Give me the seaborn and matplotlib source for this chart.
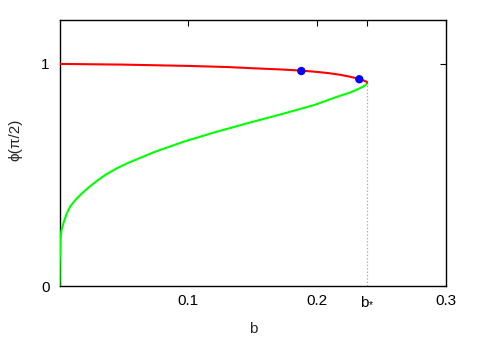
# phi(pi/2) vs b: upper (red) and lower (green) branches meeting at b*
import pandas as pd
import matplotlib
matplotlib.use("Agg")
import matplotlib.pyplot as plt
import seaborn as sns

b_star = 0.2387

# upper branch
upper_b = [0.0, 0.048, 0.1, 0.13, 0.152, 0.172, 0.1875, 0.2, 0.2095, 0.218, 0.225, 0.2295, 0.2329, 0.2362, 0.2381, 0.2387]
upper_phi = [1.0, 0.997, 0.991, 0.986, 0.980, 0.975, 0.970, 0.964, 0.958, 0.951, 0.943, 0.937, 0.931, 0.925, 0.921, 0.917]

# lower branch
lower_b = [0.0, 0.0002, 0.0007, 0.0015, 0.003, 0.0055, 0.0082, 0.012, 0.017, 0.0225, 0.029, 0.0355, 0.0445, 0.0536,
           0.0744, 0.0965, 0.1199, 0.1459, 0.1719, 0.1978, 0.216, 0.2255, 0.2316, 0.2358, 0.2381, 0.2387]
lower_phi = [0.0, 0.11, 0.207, 0.25, 0.282, 0.325, 0.357, 0.385, 0.415, 0.443, 0.473, 0.5, 0.53, 0.555,
             0.605, 0.65, 0.691, 0.733, 0.773, 0.815, 0.853, 0.871, 0.886, 0.898, 0.907, 0.917]

# marked points on the upper branch
dot_b = [0.1877, 0.2327]
dot_phi = [0.968, 0.931]

xtick_vals = [0.1, 0.2, b_star, 0.3]
xtick_labels = ["0.1", "0.2", r"b$_{*}$", "0.3"]
ytick_vals = [0, 1]
ytick_labels = ["0", "1"]

sns.set_style("white")
plt.rcParams["font.family"] = ["Liberation Sans", "DejaVu Sans"]
plt.rcParams["mathtext.fontset"] = "custom"
plt.rcParams["mathtext.rm"] = "Liberation Sans"
plt.rcParams["mathtext.it"] = "Liberation Sans"

fig = plt.figure(figsize=(4.83, 3.38), dpi=100)
ax = fig.add_axes([59.5 / 483, 52 / 338, 386.5 / 483, 266.5 / 338])

upper = pd.DataFrame({"b": upper_b, "phi": upper_phi})
lower = pd.DataFrame({"b": lower_b, "phi": lower_phi})
dots = pd.DataFrame({"b": dot_b, "phi": dot_phi})

ax.plot([b_star, b_star], [0, lower_phi[-1]], color="#b0b0b0", lw=0.9, ls=(0, (1.2, 1.5)), zorder=1)
sns.lineplot(data=lower, x="b", y="phi", sort=False, color="#00ff00", lw=1.5, ax=ax, zorder=3)
sns.lineplot(data=upper, x="b", y="phi", sort=False, color="#ff0000", lw=1.5, ax=ax, zorder=3)
sns.scatterplot(data=dots, x="b", y="phi", color="#0000ff", s=36, edgecolor="none", ax=ax, zorder=4)

ax.set_xlim(0, 0.3)
ax.set_ylim(0, 1.2)
ax.set_xticks(xtick_vals)
ax.set_xticklabels(xtick_labels)
ax.set_yticks(ytick_vals)
ax.set_yticklabels(ytick_labels)
ax.tick_params(direction="in", length=4, width=0.8, top=True, right=True, labelsize=11, pad=6, colors="black")
ax.tick_params(axis="x", labeltop=False)
ax.tick_params(axis="y", labelright=False, pad=7)
for s in ax.spines.values():
    s.set_color("black")
    s.set_linewidth(1.0)

ax.set_xlabel("b", fontsize=11, labelpad=10)
ax.set_ylabel("ϕ(π/2)", fontsize=11, va="center")
ax.yaxis.set_label_coords(-0.115, 0.55)

fig.savefig("out.png", dpi=100)
